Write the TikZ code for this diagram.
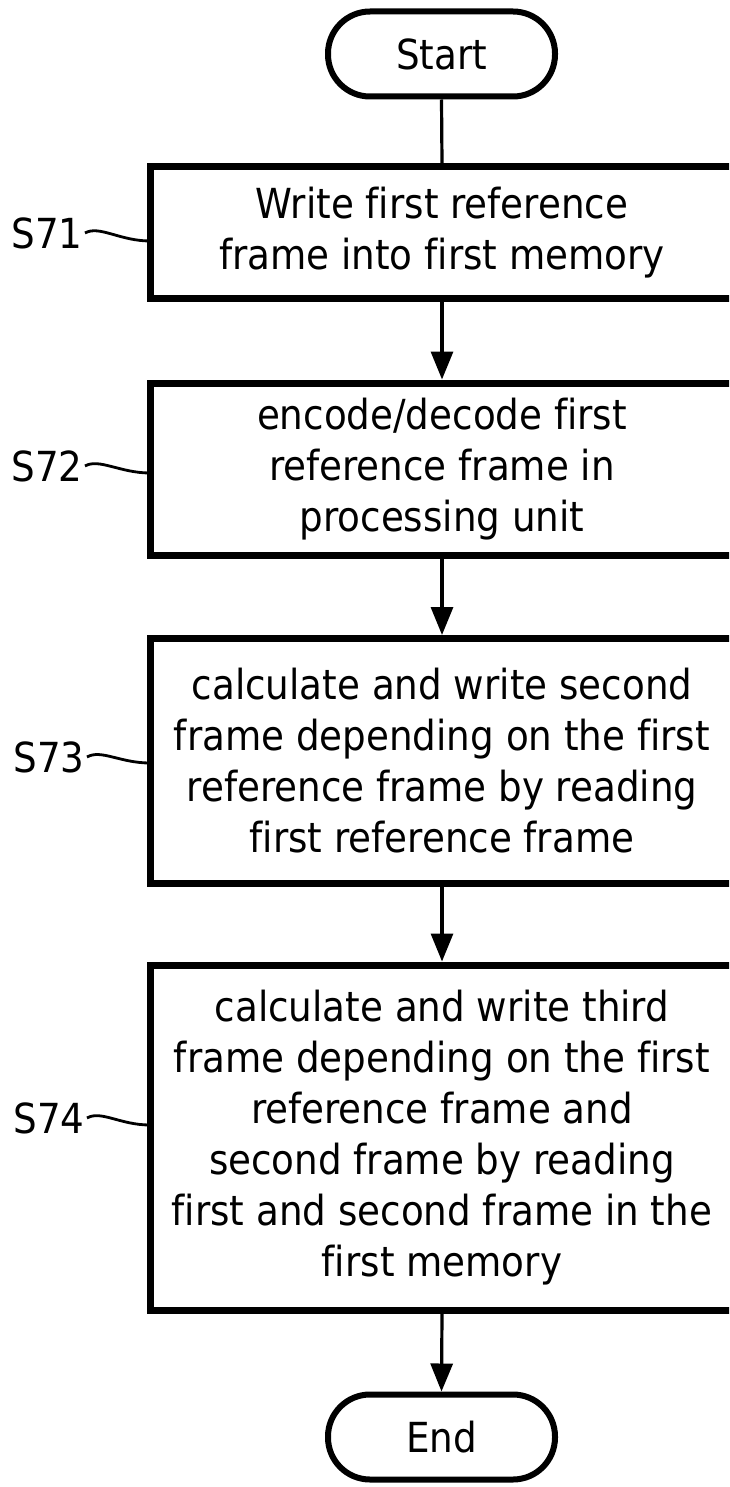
\documentclass[tikz,border=0pt]{standalone}
\usepackage{fontspec}
\setmainfont[Ligatures=NoCommon]{DejaVu Sans Condensed}
\usetikzlibrary{arrows.meta}
\newcommand{\chartfont}{\fontsize{20.7pt}{25.5pt}\selectfont}
\tikzset{
  term/.style={draw, line width=3pt, rounded corners=21pt, minimum width=113.5pt,
    minimum height=42.5pt, inner sep=0pt, font=\chartfont},
  stepbox/.style={draw, line width=3.5pt, minimum width=292pt, align=center,
    inner sep=0pt, font=\chartfont},
  steplabel/.style={anchor=east, inner sep=1pt, font=\chartfont},
  flow/.style={line width=1.6pt, -{Triangle[length=14pt,width=11pt]}},
  plain/.style={line width=1.6pt},
  tilde/.style={line width=1.4pt},
}

\begin{document}
\begin{tikzpicture}[x=0.5pt,y=-0.5pt]
   \path[use as bounding box] (0,0) rectangle (729,1487);
   \clip (0,0) rectangle (729,1487);

   % terminals
   \node[term] (start) at (441.5,54) {Start};
   \node[term] (end) at (441.5,1437) {End};

   % steps
   \node[stepbox, minimum height=66pt] (s71) at (442,232.5)
     {Write first reference\\frame into first memory};
   \node[stepbox, minimum height=86pt] (s72) at (442,469)
     {encode/decode first\\reference frame in\\processing unit};
   \node[stepbox, minimum height=122.5pt] (s73) at (442,761)
     {calculate and write second\\frame depending on the first\\reference frame by reading\\first reference frame};
   \node[stepbox, minimum height=172.5pt] (s74) at (442,1137.5)
     {calculate and write third\\frame depending on the first\\reference frame and\\second frame by reading\\first and second frame in the\\first memory};

   % flow
   \draw[plain] (start.south) -- (s71.north);
   \draw[flow] (s71.south) -- (s72.north);
   \draw[flow] (s72.south) -- (s73.north);
   \draw[flow] (s73.south) -- (s74.north);
   \draw[flow] (s74.south) -- (end.north);

   % step labels
   \node[steplabel] (l71) at (85,233) {S71};
   \node[steplabel] (l72) at (85,466) {S72};
   \node[steplabel] (l73) at (87,757) {S73};
   \node[steplabel] (l74) at (87,1118) {S74};
   \coordinate (t71) at (150,241);
   \coordinate (t72) at (150,473);
   \coordinate (t73) at (150,763);
   \coordinate (t74) at (150,1125);
   \draw[tilde] (l71.east) .. controls +(14,-8) and +(-30,0) .. (t71);
   \draw[tilde] (l72.east) .. controls +(14,-8) and +(-30,0) .. (t72);
   \draw[tilde] (l73.east) .. controls +(14,-8) and +(-30,0) .. (t73);
   \draw[tilde] (l74.east) .. controls +(14,-8) and +(-30,0) .. (t74);
 \end{tikzpicture}
\end{document}
